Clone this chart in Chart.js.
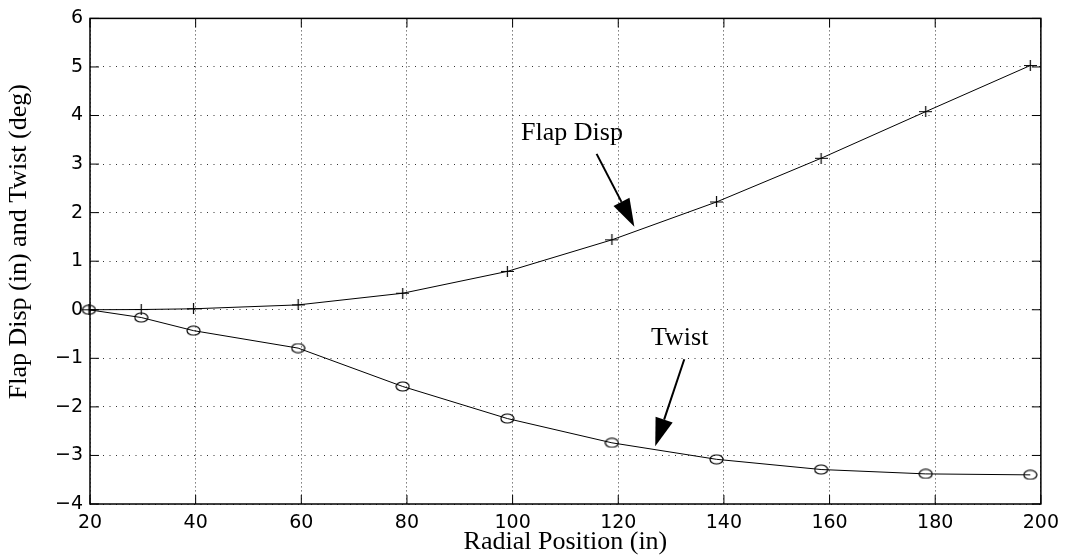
<!DOCTYPE html>
<html lang="en">
<head>
    <meta charset="UTF-8">
    <title>Flap Disp and Twist vs Radial Position</title>
    <style>
        body { margin: 0; background: #fff; }
        canvas { display: block; }
    </style>
</head>
<body>
    <canvas id="bladeChart" width="1067" height="558"></canvas>
    <script src="https://cdn.jsdelivr.net/npm/chart.js@4"></script>
    <script>
        // Values
        const radialPos = [19.8, 29.7, 39.6, 59.4, 79.2, 99, 118.8, 138.6, 158.4, 178.2, 198];
        const flapDisp = [0, 0.005, 0.02, 0.1, 0.34, 0.79, 1.44, 2.22, 3.12, 4.08, 5.03];
        const twist = [0, -0.16, -0.43, -0.79, -1.58, -2.24, -2.74, -3.08, -3.29, -3.38, -3.40];
        const xTicks = [20, 40, 60, 80, 100, 120, 140, 160, 180, 200];
        const yTicks = [-4, -3, -2, -1, 0, 1, 2, 3, 4, 5, 6];

        // text labels with arrows, in data units
        const notes = [
            { text: 'Flap Disp', x: 101.6, y: 3.5, from: [115.9, 3.21], to: [123.05, 1.71] },
            { text: 'Twist', x: 126.2, y: -0.735, from: [132.5, -1.02], to: [127.0, -2.81] }
        ];

        // marker images: '+' and 'o' (slightly wide, like the original)
        function plusMarker() {
            const c = document.createElement('canvas');
            c.width = 13; c.height = 11;
            const g = c.getContext('2d');
            g.strokeStyle = '#000'; g.lineWidth = 1.2;
            g.beginPath();
            g.moveTo(0, 5.5); g.lineTo(13, 5.5);
            g.moveTo(6.5, 0); g.lineTo(6.5, 11);
            g.stroke();
            return c;
        }
        function circleMarker() {
            const c = document.createElement('canvas');
            c.width = 15; c.height = 11;
            const g = c.getContext('2d');
            g.strokeStyle = '#000'; g.lineWidth = 1.2;
            g.beginPath();
            g.ellipse(7.5, 5.5, 6.5, 4.5, 0, 0, Math.PI * 2);
            g.stroke();
            return c;
        }

        const toPoints = (ys) => radialPos.map((x, i) => ({ x: x, y: ys[i] }));

        // box around the plot, inward ticks, annotations
        const framePlugin = {
            id: 'frame',
            afterDraw(chart) {
                const { ctx, chartArea: a, scales } = chart;
                const xs = scales.x, ys = scales.y;
                ctx.save();
                ctx.strokeStyle = '#000';
                ctx.lineWidth = 1.5;
                ctx.strokeRect(a.left, a.top, a.right - a.left, a.bottom - a.top);
                ctx.lineWidth = 1;
                ctx.beginPath();
                const tl = 9;
                xTicks.forEach(v => {
                    const px = xs.getPixelForValue(v);
                    ctx.moveTo(px, a.bottom); ctx.lineTo(px, a.bottom - tl);
                    ctx.moveTo(px, a.top); ctx.lineTo(px, a.top + tl);
                });
                yTicks.forEach(v => {
                    const py = ys.getPixelForValue(v);
                    ctx.moveTo(a.left, py); ctx.lineTo(a.left + tl, py);
                    ctx.moveTo(a.right, py); ctx.lineTo(a.right - tl, py);
                });
                ctx.stroke();

                // annotations
                ctx.fillStyle = '#000';
                ctx.font = '26px "Liberation Serif", "Times New Roman", serif';
                ctx.textAlign = 'left';
                ctx.textBaseline = 'alphabetic';
                notes.forEach(n => {
                    ctx.fillText(n.text, xs.getPixelForValue(n.x), ys.getPixelForValue(n.y));
                    const x0 = xs.getPixelForValue(n.from[0]), y0 = ys.getPixelForValue(n.from[1]);
                    const x1 = xs.getPixelForValue(n.to[0]), y1 = ys.getPixelForValue(n.to[1]);
                    const ang = Math.atan2(y1 - y0, x1 - x0);
                    const headLen = 28, headW = 9;
                    const bx = x1 - headLen * Math.cos(ang), by = y1 - headLen * Math.sin(ang);
                    ctx.lineWidth = 2;
                    ctx.beginPath();
                    ctx.moveTo(x0, y0); ctx.lineTo(bx, by);
                    ctx.stroke();
                    ctx.beginPath();
                    ctx.moveTo(x1, y1);
                    ctx.lineTo(bx + headW * Math.sin(ang), by - headW * Math.cos(ang));
                    ctx.lineTo(bx - headW * Math.sin(ang), by + headW * Math.cos(ang));
                    ctx.closePath();
                    ctx.fill();
                });
                ctx.restore();
            }
        };

        const tickFont = { family: '"DejaVu Sans", sans-serif', size: 19 };
        const titleFont = { family: '"Liberation Serif", "Times New Roman", serif', size: 26, lineHeight: 1.2 };

        const ctx = document.getElementById('bladeChart').getContext('2d');
        new Chart(ctx, {
            type: 'scatter',
            data: {
                datasets: [{
                    label: 'Flap Disp',
                    data: toPoints(flapDisp),
                    showLine: true,
                    borderColor: '#000',
                    borderWidth: 1,
                    pointStyle: plusMarker(),
                    clip: false
                }, {
                    label: 'Twist',
                    data: toPoints(twist),
                    showLine: true,
                    borderColor: '#000',
                    borderWidth: 1,
                    pointStyle: circleMarker(),
                    clip: false
                }]
            },
            plugins: [framePlugin],
            options: {
                responsive: false,
                animation: false,
                layout: { padding: { top: 10, right: 25, left: 0, bottom: 0 } },
                plugins: {
                    legend: { display: false },
                    tooltip: { enabled: false }
                },
                scales: {
                    x: {
                        type: 'linear',
                        min: 20, max: 200,
                        afterFit: (s) => { s.height = 54; },
                        afterBuildTicks: (s) => { s.ticks = xTicks.map(v => ({ value: v })); },
                        ticks: { font: tickFont, color: '#000', padding: 8, maxRotation: 0 },
                        grid: { color: '#333', drawTicks: false },
                        border: { display: false, dash: [1, 3] },
                        title: { display: true, text: 'Radial Position (in)', font: titleFont, color: '#000', padding: { top: 0, bottom: 0 } }
                    },
                    y: {
                        type: 'linear',
                        min: -4, max: 6,
                        afterFit: (s) => { s.width = 90; },
                        afterBuildTicks: (s) => { s.ticks = yTicks.map(v => ({ value: v })); },
                        ticks: {
                            font: tickFont, color: '#000', padding: 7,
                            callback: (v) => v < 0 ? '\u2212' + Math.abs(v) : String(v)
                        },
                        grid: { color: '#333', drawTicks: false },
                        border: { display: false, dash: [1, 5.5] },
                        title: { display: true, text: '      Flap Disp (in) and Twist (deg)', font: titleFont, color: '#000', padding: { top: 4, bottom: 0 } }
                    }
                }
            }
        });
    </script>
</body>
</html>
